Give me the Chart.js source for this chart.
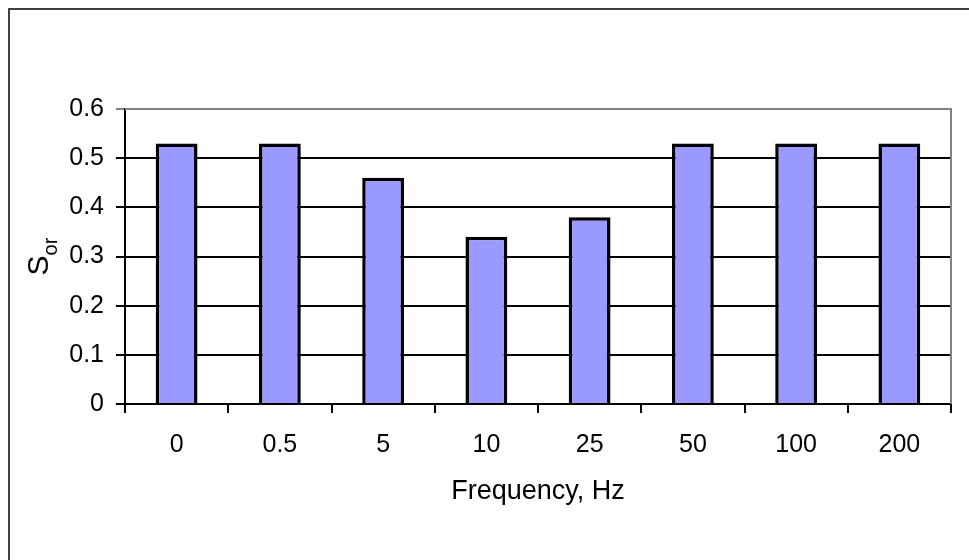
<!DOCTYPE html>
<html>
<head>
<meta charset="utf-8">
<script src="https://cdn.jsdelivr.net/npm/chart.js@4"></script>
<style>
  html, body { margin: 0; padding: 0; background: #fff; }
  #wrap { position: relative; width: 969px; height: 560px; overflow: hidden; }
  #frame { position: absolute; left: 8px; top: 8px; width: 1000px; height: 600px;
           border: 2px solid #404040; box-sizing: border-box; pointer-events: none; }
  canvas { position: absolute; left: 0; top: 0; }
</style>
</head>
<body>
<div id="wrap">
  <canvas id="myChart" width="969" height="560"></canvas>
  <div id="frame"></div>
</div>
<script>
var categorias = ["0", "0.5", "5", "10", "25", "50", "100", "200"];
var valoresSor = [0.53, 0.53, 0.46, 0.34, 0.38, 0.53, 0.53, 0.53];
var etiquetasY = ["0", "0.1", "0.2", "0.3", "0.4", "0.5", "0.6"];

var fuente = "'Liberation Sans', Arial, sans-serif";

// marco gris arriba/derecha y titulo del eje Y con subindice
var marcoPlugin = {
  id: "marco",
  afterDraw: function (chart) {
    var ctx = chart.ctx;
    var a = chart.chartArea;
    ctx.save();
    ctx.strokeStyle = "#808080";
    ctx.lineWidth = 2;
    ctx.beginPath();
    ctx.moveTo(a.left, a.top);
    ctx.lineTo(a.right, a.top);
    ctx.lineTo(a.right, a.bottom);
    ctx.stroke();

    ctx.translate(48, (a.top + a.bottom) / 2);
    ctx.rotate(-Math.PI / 2);
    ctx.fillStyle = "#000";
    ctx.textBaseline = "alphabetic";
    ctx.font = "30px " + fuente;
    var wS = ctx.measureText("S").width;
    ctx.font = "20px " + fuente;
    var wSub = ctx.measureText("or").width;
    var x0 = -(wS + wSub) / 2;
    ctx.font = "30px " + fuente;
    ctx.fillText("S", x0, 0);
    ctx.font = "20px " + fuente;
    ctx.fillText("or", x0 + wS, 9);
    ctx.restore();
  }
};

var ctx = document.getElementById("myChart").getContext("2d");
new Chart(ctx, {
  type: "bar",
  data: {
    labels: categorias,
    datasets: [{
      label: "Sor",
      data: valoresSor,
      backgroundColor: "#9999FF",
      borderColor: "#000000",
      borderWidth: 3.5,
      borderSkipped: "start",
      barPercentage: 0.405,
      categoryPercentage: 1.0
    }]
  },
  options: {
    responsive: false,
    animation: false,
    layout: { padding: { top: 109, right: 18, left: 0, bottom: 52 } },
    plugins: {
      legend: { display: false },
      tooltip: { enabled: false }
    },
    scales: {
      x: {
        offset: true,
        grid: {
          offset: true,
          drawOnChartArea: false,
          drawTicks: true,
          tickLength: 9,
          color: "#000",
          lineWidth: 2
        },
        border: { color: "#000", width: 2 },
        ticks: {
          color: "#000",
          padding: 17,
          font: { family: fuente, size: 25 }
        },
        title: {
          display: true,
          text: "Frequency, Hz",
          color: "#000",
          padding: { top: 0, bottom: 0 },
          font: { family: fuente, size: 27 }
        },
        afterFit: function (scale) { scale.height = 560 - 404 - 52; }
      },
      y: {
        min: 0,
        max: 0.6,
        ticks: {
          stepSize: 0.1,
          color: "#000",
          padding: 12,
          font: { family: fuente, size: 25 },
          callback: function (value, index) { return etiquetasY[index]; }
        },
        grid: {
          color: function (c) { return c.index === etiquetasY.length - 1 ? "#808080" : "#000"; },
          lineWidth: 2,
          tickLength: 9,
          drawTicks: true
        },
        border: { color: "#000", width: 2 },
        afterFit: function (scale) { scale.width = 125; }
      }
    }
  },
  plugins: [marcoPlugin]
});
</script>
</body>
</html>
